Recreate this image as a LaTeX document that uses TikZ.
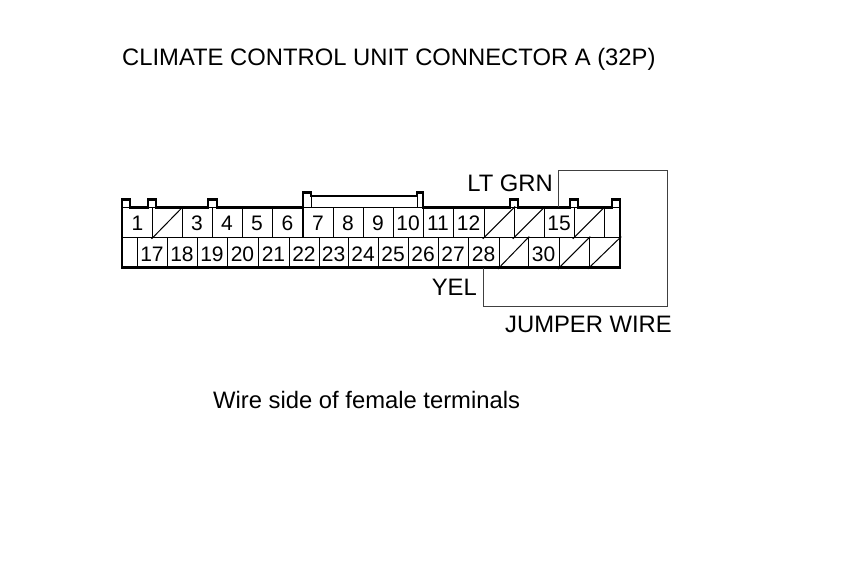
\documentclass[tikz,border=0pt]{standalone}
\usepackage{fontspec}
\setmainfont{Liberation Sans}
\begin{document}
\begin{tikzpicture}
[x=1pt, y=-1pt,
pin/.style ={rectangle, draw=black, line width=0.9pt, inner sep=0pt,
minimum height=30pt, text height=16.5pt, text depth=0pt,
font=\fontsize{21}{21}\selectfont},
label/.style ={inner sep=0pt, font=\fontsize{23.8}{23.8}\selectfont},
wire/.style ={draw=black!75, line width=0.8pt}]

\useasboundingbox (0,0) rectangle (860,580);

% top row
\foreach \n/\t/\l/\r in {1/1/122/152.7, 2/{}/152.7/182, 3/3/182/212, 4/4/212/242,
  5/5/242/272, 6/6/272/303, 7/7/303/333, 8/8/333/363, 9/9/363/393, 10/10/393/423,
  11/11/423/453, 12/12/453/484, 13/{}/484/514, 14/{}/514/544, 15/15/544/574,
  16/{}/574/604, topend/{}/604/620}
  \node (pin\n) [pin, minimum width=\r pt-\l pt] at ({(\l+\r)/2},222.7) {\t};

% bottom row
\foreach \n/\t/\l/\r in {botend/{}/122/137, 17/17/137/167, 18/18/167/197, 19/19/197/227,
  20/20/227/258, 21/21/258/289, 22/22/289/319, 23/23/319/348, 24/24/348/378,
  25/25/378/408, 26/26/408/438, 27/27/438/468, 28/28/468/499, 29/{}/499/528,
  30/30/528/559, 31/{}/559/589, 32/{}/589/620}
  \node (pin\n) [pin, minimum width=\r pt-\l pt] at ({(\l+\r)/2},252.8) {\t};

% blocked pins
\foreach \n in {2,13,14,16,29,31,32}
  \draw[line width=1pt, shorten <=-1pt, shorten >=-1pt] (pin\n.south west) -- (pin\n.north east);

% housing with its tabs
\draw[line width=2.2pt, line join=miter]
  (122,267.5) -- (122,199.5) -- (130,199.5) -- (130,207.5) -- (148,207.5) -- (148,199.5)
  -- (156,199.5) -- (156,207.5) -- (208,207.5) -- (208,199.5) -- (217,199.5) -- (217,207.5)
  -- (303,207.5) -- (303,192.5) -- (311,192.5) -- (311,196) -- (417,196) -- (417,192.5)
  -- (423,192.5) -- (423,207.5) -- (510,207.5) -- (510,199.5) -- (518,199.5) -- (518,207.5)
  -- (570,207.5) -- (570,199.5) -- (578,199.5) -- (578,207.5) -- (612,207.5) -- (612,199.5)
  -- (620,199.5) -- (620,267.5) -- cycle;
\draw[line width=1.8pt] (303,207.5) -- (303,238);
\draw[line width=0.9pt] (311,196) -- (311,207.5);
\draw[line width=0.9pt] (417,196) -- (417,207.5);

% jumper
\coordinate (wirelow) at (483.5,306);
\coordinate (wirefar) at (667.5,170);
\draw[wire] (pin28.south) -- (wirelow) -| (wirefar) -| ([xshift=-1pt]pin15.north);

% labels
\node (title) [label, anchor=base west] at (122,66) {CLIMATE CONTROL UNIT CONNECTOR A (32P)};
\node (ltgrn) [label, anchor=base east] at (553,192) {LT GRN};
\node (yel) [label, anchor=base east] at (477,296) {YEL};
\node (jumper) [label, anchor=base west] at (505,333) {JUMPER WIRE};
\node (side) [label, anchor=base west] at (213,408) {Wire side of female terminals};
\end{tikzpicture}
\end{document}
